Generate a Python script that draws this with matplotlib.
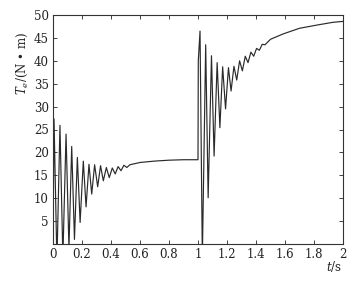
import matplotlib
matplotlib.use("Agg")
import matplotlib.pyplot as plt

# Extrema / sample points of the torque curve (time in s, torque in N·m)
t_seg1 = [0.0, 0.007, 0.027, 0.048, 0.068, 0.090, 0.110, 0.129, 0.148, 0.168,
          0.187, 0.209, 0.228, 0.248, 0.267, 0.287, 0.308, 0.328, 0.347, 0.368,
          0.388, 0.409, 0.429, 0.449, 0.469, 0.489, 0.509, 0.53, 0.6, 0.7, 0.8,
          0.9, 1.0]
v_seg1 = [0.0, 27.3, -4.0, 25.9, -3.0, 24.0, -1.0, 21.3, 1.0, 18.9,
          4.7, 18.1, 8.1, 17.4, 10.9, 17.3, 12.5, 17.1, 13.8, 16.7,
          14.5, 16.6, 15.3, 16.9, 16.0, 17.2, 16.7, 17.3, 17.8, 18.1, 18.3,
          18.4, 18.4]

t_seg2 = [1.0, 1.002, 1.014, 1.030, 1.053, 1.070, 1.093, 1.111, 1.132, 1.151,
          1.170, 1.190, 1.210, 1.228, 1.248, 1.267, 1.287, 1.306, 1.326, 1.345,
          1.365, 1.384, 1.404, 1.423, 1.443, 1.462, 1.5, 1.59, 1.7, 1.82,
          1.93, 2.0]
v_seg2 = [18.4, 40.0, 46.5, -3.0, 43.5, 10.1, 41.1, 19.2, 39.6, 25.4,
          38.7, 29.5, 38.5, 33.4, 38.8, 35.8, 40.0, 37.8, 41.0, 39.6,
          41.9, 41.0, 42.7, 42.3, 43.6, 43.5, 44.7, 45.9, 47.1, 47.8,
          48.4, 48.6]

x_ticks = [0, 0.2, 0.4, 0.6, 0.8, 1.0, 1.2, 1.4, 1.6, 1.8, 2.0]
x_tick_labels = ["0", "0.2", "0.4", "0.6", "0.8", "1", "1.2", "1.4", "1.6", "1.8", "2"]
y_ticks = [5, 10, 15, 20, 25, 30, 35, 40, 45, 50]
y_tick_labels = [str(v) for v in y_ticks]

plt.rcParams['font.family'] = ['DejaVu Serif']
plt.rcParams['mathtext.fontset'] = 'dejavuserif'

fig = plt.figure(figsize=(3.57, 2.89), dpi=100)
ax = fig.add_axes([53/357, 1 - 244/289, 290/357, 229/289])

ax.plot(t_seg1 + t_seg2, v_seg1 + v_seg2, color='#2a2a2a', lw=0.85)

ax.set_xlim(0, 2)
ax.set_ylim(0, 50)
ax.set_xticks(x_ticks)
ax.set_xticklabels(x_tick_labels)
ax.set_yticks(y_ticks)
ax.set_yticklabels(y_tick_labels)
ax.tick_params(direction='in', top=True, right=True, length=3, width=0.6,
               labelsize=8.5, colors='#222222', pad=3)
for s in ax.spines.values():
    s.set_linewidth(0.8)
    s.set_color('#333333')

fig.text(22/357, 1 - 63/289, r'$T_e$/(N • m)', rotation=90, fontsize=8.5,
         ha='center', va='center', color='#222222')
fig.text(334/357, 1 - 266/289, r'$t$/s', fontsize=8.5, ha='center', va='center', color='#222222')

fig.savefig('out.png', dpi=100)
